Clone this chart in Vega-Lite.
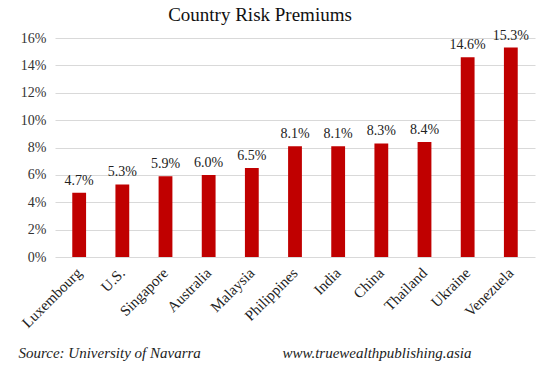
{
  "$schema": "https://vega.github.io/schema/vega-lite/v6.json",
  "autosize": {"type": "none"},
  "width": 480,
  "height": 219,
  "padding": {"left": 55, "top": 38, "right": 15, "bottom": 113},
  "background": "white",
  "config": {
    "font": "Liberation Serif",
    "view": {"stroke": null}
  },
  "title": {
    "text": "Country Risk Premiums",
    "font": "Liberation Serif",
    "fontSize": 19,
    "fontWeight": "normal",
    "color": "#111111",
    "anchor": "middle",
    "dx": -35,
    "dy": 5,
    "offset": 9
  },
  "data": {
    "values": [
      {"country": "Luxembourg", "premium": 0.047},
      {"country": "U.S.", "premium": 0.053},
      {"country": "Singapore", "premium": 0.059},
      {"country": "Australia", "premium": 0.060},
      {"country": "Malaysia", "premium": 0.065},
      {"country": "Philippines", "premium": 0.081},
      {"country": "India", "premium": 0.081},
      {"country": "China", "premium": 0.083},
      {"country": "Thailand", "premium": 0.084},
      {"country": "Ukraine", "premium": 0.146},
      {"country": "Venezuela", "premium": 0.153}
    ]
  },
  "encoding": {
    "x": {
      "field": "country",
      "type": "nominal",
      "sort": null,
      "scale": {"paddingInner": 0.68, "paddingOuter": 0.4},
      "axis": {
        "title": "Source: University of Navarra",
        "titleFont": "Liberation Serif",
        "titleFontStyle": "italic",
        "titleFontWeight": "normal",
        "titleFontSize": 15,
        "titleColor": "#222222",
        "titleAlign": "left",
        "titleBaseline": "middle",
        "titleX": -37,
        "titleY": 95,
        "labelAngle": -45,
        "labelAlign": "right",
        "labelBaseline": "middle",
        "labelFontSize": 15,
        "labelColor": "#222222",
        "labelPadding": 13,
        "labelOverlap": false,
        "ticks": false,
        "domain": false,
        "grid": false
      }
    },
    "y": {
      "field": "premium",
      "type": "quantitative",
      "scale": {"domain": [0, 0.16], "nice": false},
      "axis": {
        "title": "www.truewealthpublishing.asia",
        "titleFont": "Liberation Serif",
        "titleFontStyle": "italic",
        "titleFontWeight": "normal",
        "titleFontSize": 15,
        "titleColor": "#222222",
        "titleAngle": 0,
        "titleAlign": "left",
        "titleBaseline": "middle",
        "titleX": 227,
        "titleY": 314,
        "format": ".0%",
        "values": [0, 0.02, 0.04, 0.06, 0.08, 0.1, 0.12, 0.14, 0.16],
        "labelOverlap": false,
        "labelFontSize": 14,
        "labelColor": "#333333",
        "labelPadding": 9,
        "ticks": false,
        "domain": false,
        "grid": true,
        "gridColor": "#d9d9d9",
        "gridWidth": 1
      }
    }
  },
  "layer": [
    {
      "mark": {"type": "bar", "color": "#c00000"}
    },
    {
      "mark": {"type": "text", "baseline": "bottom", "dy": -5, "fontSize": 14, "color": "#222222"},
      "encoding": {
        "text": {"field": "premium", "type": "quantitative", "format": ".1%"}
      }
    }
  ]
}
